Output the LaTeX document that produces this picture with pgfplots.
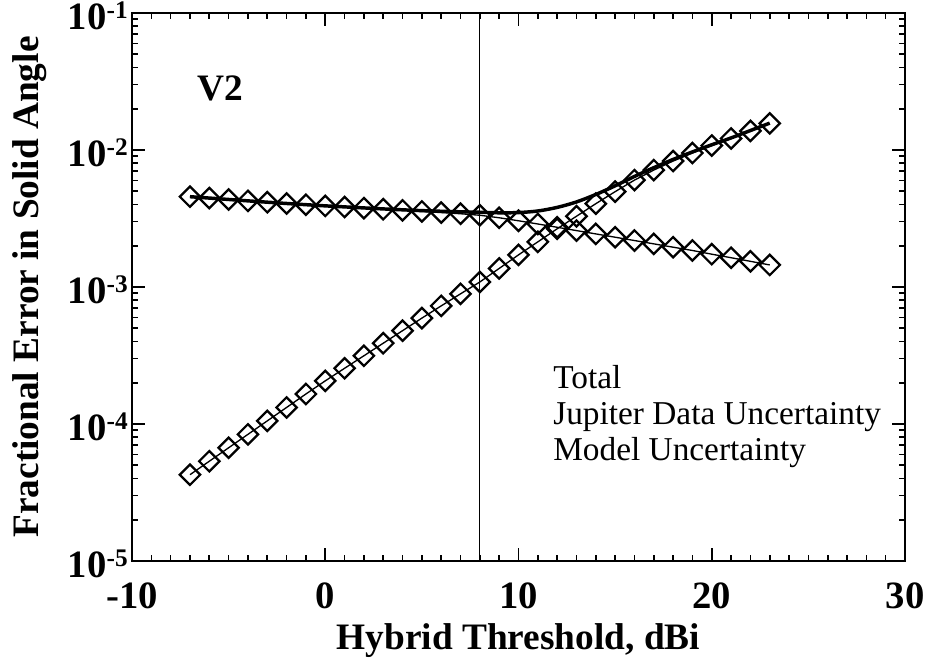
\documentclass[border=0pt]{standalone}
\usepackage{pgfplots}
\pgfplotsset{compat=1.18}
\usepackage{pgfplotstable}
\usepackage{fontspec}
\setmainfont{Liberation Serif}
\newcommand{\pw}[1]{10\raisebox{0.28em}{\fontsize{19}{19}\selectfont #1}}
\pgfplotstableread{
x D I T
-7 4.563e-3 4.266e-5 4.563e-3
-6 4.458e-3 5.349e-5 4.458e-3
-5 4.354e-3 6.707e-5 4.355e-3
-4 4.253e-3 8.405e-5 4.254e-3
-3 4.159e-3 1.054e-4 4.160e-3
-2 4.069e-3 1.321e-4 4.071e-3
-1 3.987e-3 1.656e-4 3.990e-3
0 3.907e-3 2.065e-4 3.912e-3
1 3.836e-3 2.551e-4 3.845e-3
2 3.765e-3 3.148e-4 3.778e-3
3 3.696e-3 3.888e-4 3.716e-3
4 3.628e-3 4.800e-4 3.660e-3
5 3.561e-3 5.929e-4 3.610e-3
6 3.496e-3 7.283e-4 3.571e-3
7 3.426e-3 8.916e-4 3.540e-3
8 3.340e-3 1.088e-3 3.513e-3
9 3.202e-3 1.366e-3 3.481e-3
10 3.044e-3 1.716e-3 3.494e-3
11 2.884e-3 2.136e-3 3.589e-3
12 2.729e-3 2.660e-3 3.811e-3
13 2.581e-3 3.284e-3 4.177e-3
14 2.441e-3 4.056e-3 4.734e-3
15 2.309e-3 4.966e-3 5.477e-3
16 2.184e-3 6.029e-3 6.412e-3
17 2.065e-3 7.137e-3 7.430e-3
18 1.953e-3 8.307e-3 8.533e-3
19 1.848e-3 9.506e-3 9.684e-3
20 1.736e-3 1.078e-2 1.092e-2
21 1.636e-3 1.214e-2 1.225e-2
22 1.540e-3 1.378e-2 1.387e-2
23 1.449e-3 1.564e-2 1.571e-2
}\datatable
\begin{document}
\begin{tikzpicture}
\path[use as bounding box] (-99pt,-72pt) rectangle (602.25pt,420.75pt);
\begin{axis}[
  scale only axis, width=579.75pt, height=411pt,
  xmin=-10, xmax=30, ymode=log, ymin=1e-5, ymax=1e-1,
  xtick={-10,0,10,20,30}, xticklabels={-10,0,10,20,30},
  minor x tick num=9,
  ytick={1e-5,1e-4,1e-3,1e-2,1e-1},
  yticklabels={\pw{-5},\pw{-4},\pw{-3},\pw{-2},\pw{-1}},
  tick align=inside, xtick pos=both, ytick pos=both,
  major tick length=10pt, minor tick length=4.5pt,
  every tick/.style={black, line width=1.2pt},
  axis line style={line width=2pt},
  ticklabel style={font=\fontsize{29}{32}\selectfont\bfseries},
  xticklabel style={yshift=-13pt},
  yticklabel style={xshift=-2pt, yshift=-2pt, inner sep=1pt},
  xlabel={Hybrid Threshold, dBi},
  ylabel={Fractional Error in Solid Angle},
  label style={font=\fontsize{28}{32}\selectfont\bfseries},
  xlabel style={at={(axis description cs:0.5,-0.162)}, anchor=base},
  ylabel style={at={(axis description cs:-0.121,0.5)}, anchor=base},
  clip=false,
]
\addplot[black, line width=0.8pt, forget plot] coordinates {(8,1e-5) (8,1e-1)};
\addplot[black, line width=1pt, mark=square, mark size=5.4pt, mark options={rotate=45, line width=1.7pt, solid}] table[x=x, y=D] {\datatable};
\addplot[black, line width=1pt, mark=square, mark size=5.4pt, mark options={rotate=45, line width=1.7pt, solid}] table[x=x, y=I] {\datatable};
\addplot[black, line width=2.6pt, no marks, smooth] table[x=x, y=T] {\datatable};
\node[anchor=base west, font=\fontsize{28}{32}\selectfont\bfseries] at (axis description cs:0.079,0.841) {V2};
\node[anchor=base west, font=\fontsize{25}{28}\selectfont] at (axis description cs:0.539,0.3139) {Total};
\node[anchor=base west, font=\fontsize{25}{28}\selectfont] at (axis description cs:0.539,0.2482) {Jupiter Data Uncertainty};
\node[anchor=base west, font=\fontsize{25}{28}\selectfont] at (axis description cs:0.539,0.1843) {Model Uncertainty};
\end{axis}
\end{tikzpicture}
\end{document}
